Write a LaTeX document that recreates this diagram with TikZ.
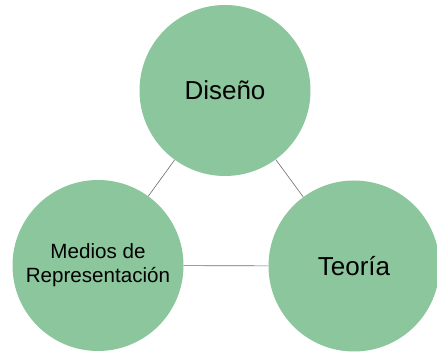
\documentclass[tikz,border=0pt]{standalone}
\usepackage{fontspec}
\setmainfont{Liberation Sans}
\usepackage{tikz}
\usetikzlibrary{positioning}
\definecolor{ballgreen}{RGB}{139,198,157}
\tikzset{ball/.style={circle, fill=ballgreen, draw=none, minimum size=171pt, inner sep=0pt, align=center, text=black}}
\tikzset{bigtext/.style={font=\fontsize{26}{31}\selectfont}}
\tikzset{smalltext/.style={font=\fontsize{20.6}{24}\selectfont}}
\tikzset{link/.style={draw, gray!85!black, line width=0.6pt}}

\begin{document}
\begin{tikzpicture}[x=1pt, y=1pt]
			\useasboundingbox (0,0) rectangle (437,355);
			\node[ball, bigtext] (dis) at (225,264.5) {Diseño};
			\node[ball, smalltext] (med) at (98,89.5) {Medios de\\Representación};
			\node[ball, bigtext] (teo) at (354,89) {Teoría};
			%
			\draw[link] (dis) -- (med);
			\draw[link] (dis) -- (teo);
			\draw[link] (med) -- (teo);
		\end{tikzpicture}
\end{document}
